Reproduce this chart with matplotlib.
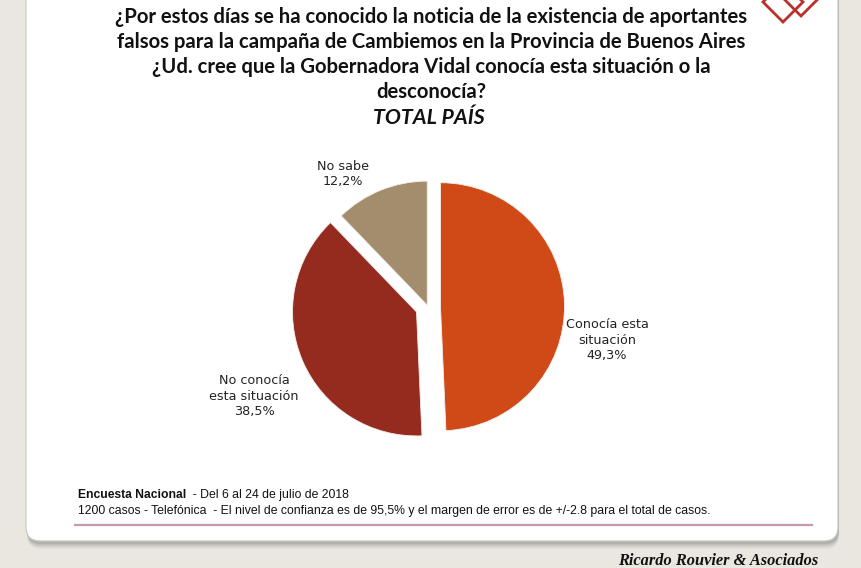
import matplotlib
matplotlib.use("Agg")
import matplotlib.pyplot as plt
from matplotlib.patches import FancyBboxPatch, Polygon

categories = ["Conocía esta\nsituación", "No conocía\nesta situación", "No sabe"]
values = [49.3, 38.5, 12.2]
value_labels = ["49,3%", "38,5%", "12,2%"]
colors = ["#D04A18", "#952A1F", "#A38D6C"]

title_lines = [
    "¿Por estos días se ha conocido la noticia de la existencia de aportantes",
    "falsos para la campaña de Cambiemos en la Provincia de Buenos Aires",
    "¿Ud. cree que la Gobernadora Vidal conocía esta situación o la",
    "desconocía?",
]
subtitle = "TOTAL PAÍS"
footer1_bold = "Encuesta Nacional"
footer1_rest = "  - Del 6 al 24 de julio de 2018"
footer2 = "1200 casos - Telefónica  - El nivel de confianza es de 95,5% y el margen de error es de +/-2.8 para el total de casos."
brand = "Ricardo Rouvier & Asociados"

W, H = 862, 568
fig = plt.figure(figsize=(W / 100, H / 100), dpi=100)
fig.patch.set_facecolor("#EAE7E1")
ax = fig.add_axes([0, 0, 1, 1])
ax.set_xlim(0, W)
ax.set_ylim(0, H)
ax.set_aspect("equal")
ax.axis("off")

def Y(y):
    return H - y

# card shadow
for i, a in enumerate([0.05, 0.08, 0.11, 0.15]):
    off = 8 - i * 1.6
    sh = FancyBboxPatch((26 + 1, Y(541) - off), 812, 600, boxstyle="round,pad=0,rounding_size=14",
                        facecolor="#4A4A4A", edgecolor="none", alpha=a, zorder=1)
    ax.add_patch(sh)
card = FancyBboxPatch((26, Y(541)), 812, 600, boxstyle="round,pad=0,rounding_size=14",
                      facecolor="white", edgecolor="#C8C5BF", linewidth=0.8, zorder=2)
ax.add_patch(card)

# logo (diamonds)
logo_col = "#B8312B"
for cx, cy, s in [(783, 2, 20), (801, -3, 19)]:
    pts = [(cx, Y(cy - s)), (cx + s, Y(cy)), (cx, Y(cy + s)), (cx - s, Y(cy))]
    ax.add_patch(Polygon(pts, closed=True, fill=False, edgecolor=logo_col, linewidth=2.0, zorder=3))

# title
for i, line in enumerate(title_lines):
    ax.text(431, Y(17 + 25 * i), line, ha="center", va="center", fontsize=14.6,
            fontweight="bold", family=["Lato", "DejaVu Sans"], color="#111111", zorder=4)
ax.text(429, Y(118), subtitle, ha="center", va="center", fontsize=15.3, fontweight="bold",
        fontstyle="italic", family=["Lato", "DejaVu Sans"], color="#111111", zorder=4)

# pie (explode in pixel units)
explode = [12.5, 12.5, 2.0]
wedges, _ = ax.pie(values, colors=colors, explode=explode, startangle=90, counterclock=False,
                   center=(428, Y(307)), radius=124, frame=True,
                   wedgeprops=dict(linewidth=0.6, edgecolor="#F2EEEA"))
for w in wedges:
    w.set_zorder(5)
ax.set_xlim(0, W)
ax.set_ylim(0, H)
ax.axis("off")

label_pos = [(607, 340), (254, 396), (343, 174)]
for (x, y), cat, v in zip(label_pos, categories, value_labels):
    ax.text(x, Y(y), cat + "\n" + v, ha="center", va="center", fontsize=9.2,
            family=["DejaVu Sans"], color="#222222", linespacing=1.22, zorder=6)

# footer
ft = ["Liberation Sans", "DejaVu Sans"]
t = ax.text(78, Y(495), footer1_bold, ha="left", va="center", fontsize=8.7, fontweight="bold",
            family=ft, color="#111111", zorder=6)
fig.canvas.draw()
bb = t.get_window_extent()
ax.text(78 + bb.width, Y(495), footer1_rest, ha="left", va="center", fontsize=8.8,
        family=ft, color="#111111", zorder=6)
ax.text(78, Y(511), footer2, ha="left", va="center", fontsize=8.8, family=ft,
        color="#111111", zorder=6)
ax.plot([75, 812], [Y(525), Y(525)], color="#C89AAE", linewidth=1.6, zorder=6)

ax.text(818, Y(561), brand, ha="right", va="center", fontsize=11.8, fontweight="bold",
        fontstyle="italic", family=["Liberation Serif", "DejaVu Serif"], color="#111111", zorder=6)

fig.savefig("out.png", dpi=100, facecolor=fig.get_facecolor())
